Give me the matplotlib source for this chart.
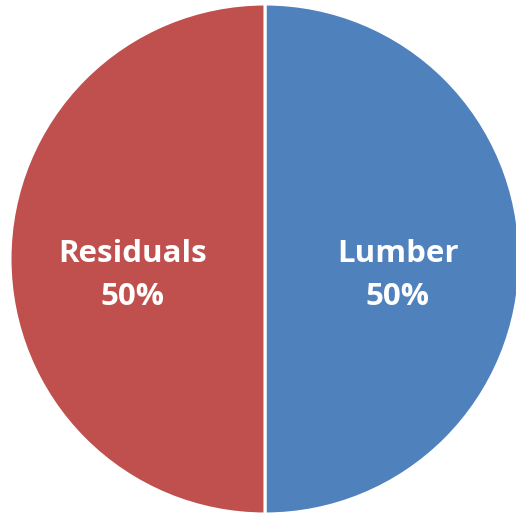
import matplotlib
matplotlib.use("Agg")
import matplotlib.pyplot as plt

# ── data ────────────────────────────────────────────────────────────────
categories = ["Lumber", "Residuals"]
shares = [50, 50]
colors = ["#4F81BD", "#C0504D"]

# ── figure ──────────────────────────────────────────────────────────────
fig = plt.figure(figsize=(5.16, 5.15), dpi=100)
W, H = 516, 515
cx, cy, r = 265, 259, 255  # pie centre / radius in pixels (top-left origin)
ax = fig.add_axes([(cx - r) / W, (H - cy - r) / H, 2 * r / W, 2 * r / H])

wedges, texts, autotexts = ax.pie(
    shares,
    colors=colors,
    startangle=90,
    counterclock=False,
    radius=1,
    autopct="%1.0f%%",
    pctdistance=0.52,
    wedgeprops=dict(edgecolor="white", linewidth=2.2),
    frame=False,
)

for t in texts:
    t.set_visible(False)

for name, at in zip(categories, autotexts):
    x, y = at.get_position()
    at.set_position((x, y - 0.065))
    at.set_text(f"{name}\n{at.get_text()}")
    at.set_color("white")
    at.set_fontweight("bold")
    at.set_fontsize(22.5)
    at.set_family(["Open Sans", "DejaVu Sans"])
    at.set_linespacing(1.55)
    at.set_ha("center")
    at.set_va("center")

# pie() rescales the view, so pin the limits afterwards
ax.set_aspect("auto")
ax.set_xlim(-1, 1)
ax.set_ylim(-1, 1)
ax.axis("off")
fig.savefig("out.png", dpi=100)
